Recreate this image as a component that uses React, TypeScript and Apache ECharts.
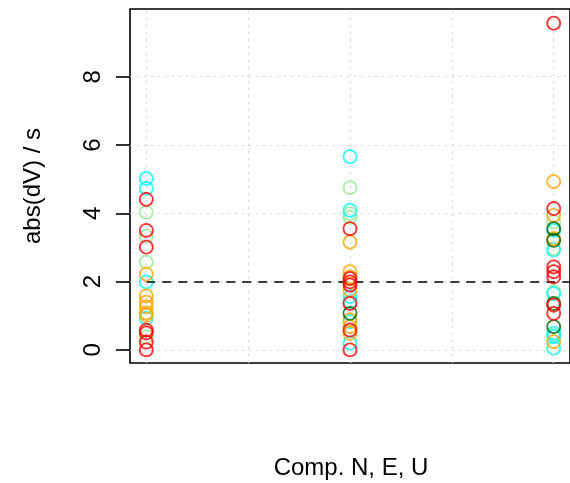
import React, { useEffect, useRef } from "react";
import * as echarts from "echarts";

// x positions of the three components N, E, U
const components = ["N", "E", "U"];
const compPositions = [1, 2, 3];

// values per colour group, for N, E, U
const cyanValues = [
  [5.02, 4.73, 1.99, 0.93],
  [5.66, 4.09, 1.56, 1.41, 0.83, 0.2],
  [3.5, 2.92, 1.65, 0.49, 0.39, 0.05],
];
const lightgreenValues = [
  [4.03, 3.33, 2.57, 0.38],
  [4.75, 3.99, 3.88],
  [3.75, 2.97, 1.7, 0.44],
];
const orangeValues = [
  [2.22, 1.58, 1.4, 1.26, 1.08, 1.02],
  [3.16, 2.29, 2.14, 1.75, 0.88, 0.68, 0.49],
  [4.93, 3.94, 3.26, 0.24],
];
const darkgreenValues = [[], [1.07], [3.55, 3.21, 1.36, 0.68]];
const redValues = [
  [4.41, 3.5, 3.01, 0.58, 0.5, 0.23, 0.0],
  [3.55, 2.09, 1.99, 1.9, 1.36, 0.58, 0.0],
  [9.57, 4.14, 2.43, 2.29, 2.14, 1.31, 1.07],
];

const yTicks = [0, 2, 4, 6, 8];
const gridX = [1, 1.5, 2, 2.5, 3];
const threshold = 2;

const X_MIN = 0.92;
const X_MAX = 3.08;
const Y_MIN = -0.384;
const Y_MAX = 9.984;

const FONT = "Liberation Sans, Arial, Helvetica, sans-serif";

function toPoints(vals: number[][]) {
  const out: number[][] = [];
  vals.forEach((arr, i) => arr.forEach((v) => out.push([compPositions[i], v])));
  return out;
}

export default function App() {
  const ref = useRef<HTMLDivElement>(null);
  useEffect(() => {
    if (!ref.current) return;
    const chart = echarts.init(ref.current, undefined, { renderer: "svg" });
    const groups: [string, number[][]][] = [
      ["#90EE90", lightgreenValues],
      ["#00FFFF", cyanValues],
      ["#FFA500", orangeValues],
      ["#006400", darkgreenValues],
      ["#FF0000", redValues],
    ];
    const series: any[] = groups.map(([color, vals], idx) => ({
      type: "scatter",
      data: toPoints(vals),
      symbol: "circle",
      symbolSize: 13,
      itemStyle: { color: "rgba(0,0,0,0)", borderColor: color, borderWidth: 1.8 },
      silent: true,
      z: 3 + idx,
    }));
    // dotted grid
    series.unshift({
      type: "scatter",
      data: [],
      z: 1,
      silent: true,
      markLine: {
        silent: true,
        symbol: "none",
        label: { show: false },
        lineStyle: { color: "#d3d3d3", type: [2, 5], width: 1.2 },
        data: [
          ...yTicks.map((v) => ({ yAxis: v })),
          ...gridX.map((v) => ({ xAxis: v })),
        ],
      },
    });
    // dashed threshold line
    series.push({
      type: "scatter",
      data: [],
      z: 20,
      silent: true,
      markLine: {
        silent: true,
        symbol: "none",
        label: { show: false },
        lineStyle: { color: "#000", type: [9, 7], width: 1.5 },
        data: [[{ coord: [compPositions[0], threshold] }, { coord: [X_MAX, threshold] }]],
      },
    });
    chart.setOption({
      animation: false,
      grid: {
        left: 130,
        top: 9,
        width: 442,
        height: 354,
        show: true,
        borderColor: "#000",
        borderWidth: 1.6,
        backgroundColor: "transparent",
      },
      xAxis: {
        type: "value",
        min: X_MIN,
        max: X_MAX,
        axisLine: { show: false },
        axisTick: { show: false },
        axisLabel: { show: false },
        splitLine: { show: false },
      },
      yAxis: {
        type: "value",
        min: Y_MIN,
        max: Y_MAX,
        axisLine: { show: false },
        axisTick: {
          show: true,
          length: 14,
          inside: false,
          customValues: yTicks,
          lineStyle: { color: "#000", width: 1.6 },
        },
        axisLabel: {
          show: true,
          customValues: yTicks,
          rotate: 90,
          margin: 27,
          color: "#000",
          fontSize: 24,
          fontFamily: FONT,
        },
        splitLine: { show: false },
      },
      graphic: [
        {
          type: "text",
          x: 31,
          y: 186,
          rotation: Math.PI / 2,
          style: {
            text: "abs(dV) / s",
            fontSize: 24,
            fontFamily: FONT,
            fill: "#000",
            textAlign: "center",
            textVerticalAlign: "middle",
          },
        },
        {
          type: "text",
          x: 351,
          y: 466,
          style: {
            text: "Comp. " + components.join(", "),
            fontSize: 24,
            fontFamily: FONT,
            fill: "#000",
            textAlign: "center",
            textVerticalAlign: "middle",
          },
        },
      ],
      series,
    });
    return () => chart.dispose();
  }, []);
  return (
    <div
      ref={ref}
      style={{ position: "fixed", left: 0, top: 0, width: 570, height: 483 }}
    />
  );
}
